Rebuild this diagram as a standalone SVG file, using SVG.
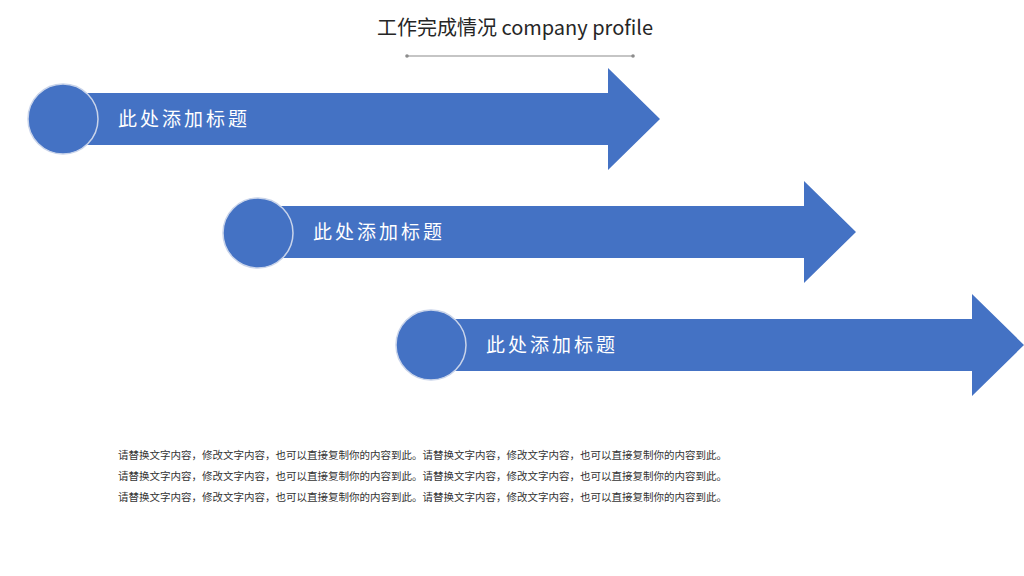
<svg xmlns="http://www.w3.org/2000/svg" width="1024" height="576" viewBox="0 0 1024 576">
<style>
.ar{fill:#4472C4}
.c{fill:#4472C4;stroke:#c9d4ea;stroke-width:1.5}
.lb{font-family:"Noto Sans CJK SC",sans-serif;font-size:19px;fill:#fff;letter-spacing:3px}
.bd{font-family:"Noto Sans CJK SC",sans-serif;font-size:10.5px;fill:#333}
</style>
<rect width="1024" height="576" fill="#fff"/>
<g id="title">
<text x="515" y="35" text-anchor="middle" font-family="'Noto Sans CJK SC',sans-serif" font-size="20" fill="#262626">工作完成情况 company profile</text>
<line x1="407" y1="56" x2="633" y2="56" stroke="#8c8c8c" stroke-width="1.2"/>
<circle cx="407" cy="56" r="1.8" fill="#8c8c8c"/><circle cx="633" cy="56" r="1.8" fill="#8c8c8c"/>
</g>
<g id="connectors"></g>
<g id="node1">
<polygon class="ar" points="60,93 608,93 608,68 660,119 608,170 608,145 60,145"/>
<circle class="c" cx="63" cy="119" r="35"/>
<text class="lb" x="118" y="126">此处添加标题</text>
</g>
<g id="node2">
<polygon class="ar" points="255,206 804,206 804,181 856,232 804,283 804,258 255,258"/>
<circle class="c" cx="258" cy="233" r="35"/>
<text class="lb" x="313" y="239">此处添加标题</text>
</g>
<g id="node3">
<polygon class="ar" points="428,319 972,319 972,294 1024,345 972,396 972,371 428,371"/>
<circle class="c" cx="431" cy="345" r="35"/>
<text class="lb" x="486" y="352">此处添加标题</text>
</g>
<g id="body">
<text class="bd" x="118" y="459">请替换文字内容，修改文字内容，也可以直接复制你的内容到此。请替换文字内容，修改文字内容，也可以直接复制你的内容到此。</text>
<text class="bd" x="118" y="480">请替换文字内容，修改文字内容，也可以直接复制你的内容到此。请替换文字内容，修改文字内容，也可以直接复制你的内容到此。</text>
<text class="bd" x="118" y="501">请替换文字内容，修改文字内容，也可以直接复制你的内容到此。请替换文字内容，修改文字内容，也可以直接复制你的内容到此。</text>
</g>
</svg>
